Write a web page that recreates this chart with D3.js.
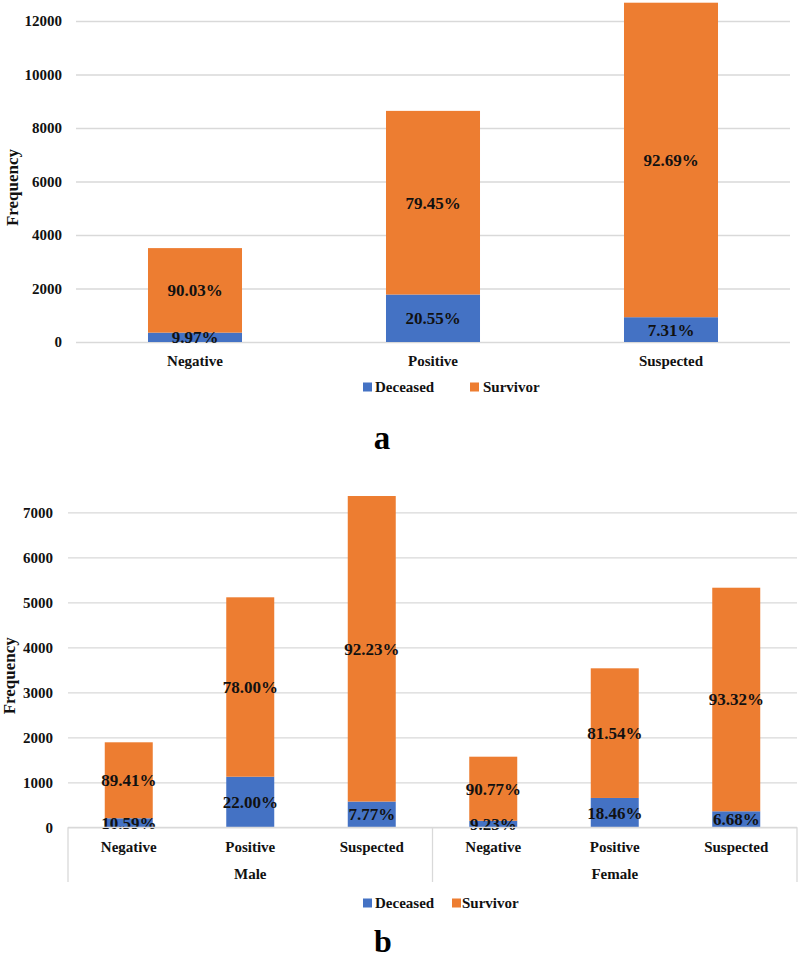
<!DOCTYPE html>
<html><head><meta charset="utf-8">
<script src="https://cdn.jsdelivr.net/npm/d3@7"></script>
<style>
body{margin:0;background:#fff;}
svg{display:block;font-family:"Liberation Serif","Times New Roman",serif;font-weight:bold;}
</style></head>
<body>
<svg id="c" width="800" height="959"></svg>
<script>
// ---- Data (panel a) ----
const categories = ["Negative", "Positive", "Suspected"];
const aDeceased = [350, 1775, 927];
const aSurvivor = [3160, 6865, 11757];
const aPctDeceased = ["9.97%", "20.55%", "7.31%"];
const aPctSurvivor = ["90.03%", "79.45%", "92.69%"];
const aTicks = [0, 2000, 4000, 6000, 8000, 10000, 12000];

// ---- Data (panel b) ----
const groups = ["Male", "Female"];
const bCategories = ["Negative", "Positive", "Suspected", "Negative", "Positive", "Suspected"];
const bGroupOf = ["Male", "Male", "Male", "Female", "Female", "Female"];
const bDeceased = [200, 1124, 572, 145, 652, 356];
const bSurvivor = [1689, 3987, 6790, 1424, 2881, 4968];
const bPctDeceased = ["10.59%", "22.00%", "7.77%", "9.23%", "18.46%", "6.68%"];
const bPctSurvivor = ["89.41%", "78.00%", "92.23%", "90.77%", "81.54%", "93.32%"];
const bTicks = [0, 1000, 2000, 3000, 4000, 5000, 6000, 7000];

const seriesNames = ["Deceased", "Survivor"];
const colors = {Deceased: "#4472C4", Survivor: "#ED7D31"};
const gridColor = "#d9d9d9";
const textColor = "#111";

const svg = d3.select("#c");

function panel(opts) {
  const {keys, labels, dec, sur, pd, ps, ticks, x0, x1, y0, y1, ymax, tickPad, freqX, catY} = opts;
  const x = d3.scaleBand().domain(keys).range([x0, x1]).paddingInner(0.605).paddingOuter(0.3025);
  const y = d3.scaleLinear().domain([0, ymax]).range([y0, y1]);
  const g = svg.append("g");

  // gridlines + tick labels
  const ax = g.append("g").attr("transform", `translate(${x0},0)`)
    .call(d3.axisLeft(y).tickValues(ticks).tickSize(-(x1 - x0)).tickPadding(tickPad).tickFormat(d3.format("d")));
  ax.select(".domain").remove();
  ax.selectAll(".tick line").attr("stroke", gridColor).attr("stroke-width", 1.3);
  ax.selectAll(".tick text").attr("fill", textColor).style("font-size", "15px")
    .style("font-family", "Liberation Serif").style("font-weight", "bold");

  // bars
  keys.forEach((k, i) => {
    const bx = x(k), bw = x.bandwidth();
    g.append("rect").attr("x", bx).attr("width", bw)
      .attr("y", y(dec[i])).attr("height", y(0) - y(dec[i])).attr("fill", colors.Deceased);
    g.append("rect").attr("x", bx).attr("width", bw)
      .attr("y", y(dec[i] + sur[i])).attr("height", y(dec[i]) - y(dec[i] + sur[i])).attr("fill", colors.Survivor);
    const cx = bx + bw / 2;
    g.append("text").attr("x", cx).attr("y", (y(0) + y(dec[i])) / 2).attr("dy", "0.35em")
      .attr("text-anchor", "middle").style("font-size", "17px").attr("fill", textColor).text(pd[i]);
    g.append("text").attr("x", cx).attr("y", (y(dec[i]) + y(dec[i] + sur[i])) / 2).attr("dy", "0.35em")
      .attr("text-anchor", "middle").style("font-size", "17px").attr("fill", textColor).text(ps[i]);
  });

  // category labels
  const xa = g.append("g").attr("transform", `translate(0,${catY})`)
    .call(d3.axisBottom(x).tickSize(0).tickPadding(0).tickFormat((d, i) => labels[i]));
  xa.select(".domain").remove();
  xa.selectAll(".tick text").attr("fill", textColor).attr("dy", "0.35em").attr("y", 0)
    .style("font-size", "15px").style("font-family", "Liberation Serif").style("font-weight", "bold");

  // y title
  g.append("text").attr("transform", `translate(${freqX},${(y0 + y1) / 2 + 6}) rotate(-90)`)
    .attr("text-anchor", "middle").attr("dy", "0.35em").style("font-size", "17px").attr("fill", textColor).text("Frequency");
  return {x, y, g};
}

function legend(yc, items) {
  const lg = svg.append("g");
  items.forEach(it => {
    lg.append("rect").attr("x", it.sx).attr("y", yc - 4.5).attr("width", 9).attr("height", 9).attr("fill", colors[it.name]);
    lg.append("text").attr("x", it.tx).attr("y", yc).attr("dy", "0.35em").style("font-size", "15px")
      .attr("fill", textColor).text(it.name);
  });
}

// ---- Panel a ----
panel({keys: categories, labels: categories, dec: aDeceased, sur: aSurvivor, pd: aPctDeceased, ps: aPctSurvivor,
  ticks: aTicks, x0: 76, x1: 790, y0: 342, y1: 21, ymax: 12000, tickPad: 14, freqX: 12, catY: 361});
legend(387, [{name: seriesNames[0], sx: 363, tx: 375}, {name: seriesNames[1], sx: 470, tx: 483}]);
svg.append("text").attr("x", 382).attr("y", 449).attr("text-anchor", "middle").style("font-size", "33px")
  .attr("fill", "#000").text("a");

// ---- Panel b ----
const bKeys = bCategories.map((c, i) => bGroupOf[i] + "|" + c);
const pb = panel({keys: bKeys, labels: bCategories, dec: bDeceased, sur: bSurvivor, pd: bPctDeceased, ps: bPctSurvivor,
  ticks: bTicks, x0: 68, x1: 797, y0: 827.3, y1: 512.3, ymax: 7000, tickPad: 15, freqX: 9, catY: 846.7});

// category axis line and group separators
const axisG = svg.append("g").attr("stroke", gridColor).attr("stroke-width", 1.3);
axisG.append("line").attr("x1", 68).attr("x2", 797).attr("y1", pb.y(0)).attr("y2", pb.y(0));
const sepX = [68, (pb.x(bKeys[2]) + pb.x(bKeys[3]) + pb.x.bandwidth()) / 2, 797];
sepX.forEach(sx => axisG.append("line").attr("x1", sx).attr("x2", sx).attr("y1", pb.y(0)).attr("y2", 882));

groups.forEach((gname, gi) => {
  const mid = bKeys[gi * 3 + 1];
  svg.append("text").attr("x", pb.x(mid) + pb.x.bandwidth() / 2).attr("y", 874).attr("dy", "0.35em")
    .attr("text-anchor", "middle").style("font-size", "15px").attr("fill", textColor).text(gname);
});
legend(903, [{name: seriesNames[0], sx: 363, tx: 375}, {name: seriesNames[1], sx: 452, tx: 462}]);
svg.append("text").attr("x", 383).attr("y", 952).attr("text-anchor", "middle").style("font-size", "32px")
  .attr("fill", "#000").text("b");
</script>
</body></html>
